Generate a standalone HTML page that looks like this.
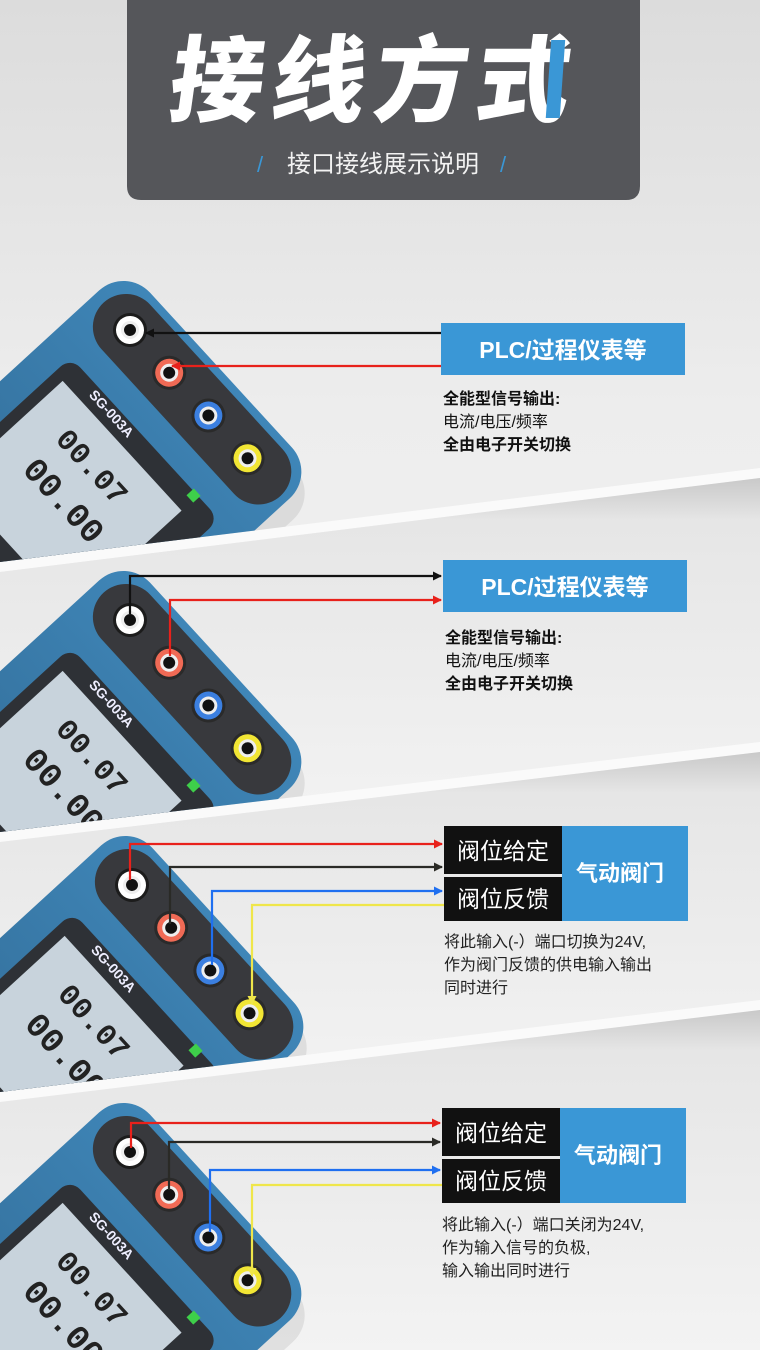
<!DOCTYPE html>
<html><head><meta charset="utf-8">
<style>
html,body{margin:0;padding:0;width:760px;height:1350px;overflow:hidden;background:#ececec;}
svg{display:block}
.cn{font-family:"Liberation Sans","Noto Sans CJK SC",sans-serif;}
</style></head>
<body>
<svg id="s" width="760" height="1350" viewBox="0 0 760 1350" xmlns="http://www.w3.org/2000/svg" class="cn" style="overflow:hidden">
<defs>
  <linearGradient id="bg1" x1="0" y1="0" x2="0" y2="1">
    <stop offset="0" stop-color="#dcdcdc"/><stop offset="0.3" stop-color="#ededed"/><stop offset="1" stop-color="#f6f6f6"/>
  </linearGradient>
  <linearGradient id="sec" x1="0" y1="0" x2="0" y2="1">
    <stop offset="0" stop-color="#c9c9c9"/><stop offset="0.12" stop-color="#e6e6e6"/><stop offset="1" stop-color="#f3f3f3"/>
  </linearGradient>
  <linearGradient id="body" x1="0" y1="0" x2="0" y2="1">
    <stop offset="0" stop-color="#3f86b8"/><stop offset="1" stop-color="#2b5f86"/>
  </linearGradient>
  <marker id="ak" markerWidth="9" markerHeight="9" refX="8" refY="4.5" orient="auto" markerUnits="userSpaceOnUse"><path d="M0,0 L9,4.5 L0,9 Z" fill="#111"/></marker>
  <marker id="ad" markerWidth="9" markerHeight="9" refX="8" refY="4.5" orient="auto" markerUnits="userSpaceOnUse"><path d="M0,0 L9,4.5 L0,9 Z" fill="#2a2a26"/></marker>
  <marker id="ar" markerWidth="9" markerHeight="9" refX="8" refY="4.5" orient="auto" markerUnits="userSpaceOnUse"><path d="M0,0 L9,4.5 L0,9 Z" fill="#e8211b"/></marker>
  <marker id="ab" markerWidth="9" markerHeight="9" refX="8" refY="4.5" orient="auto" markerUnits="userSpaceOnUse"><path d="M0,0 L9,4.5 L0,9 Z" fill="#1f6ff0"/></marker>
  <marker id="ay" markerWidth="9" markerHeight="9" refX="8" refY="4.5" orient="auto" markerUnits="userSpaceOnUse"><path d="M0,0 L9,4.5 L0,9 Z" fill="#efe64a"/></marker>
  <clipPath id="c1"><polygon points="0,0 760,0 760,468 0,562"/></clipPath>
  <clipPath id="c2"><polygon points="0,572 760,478 760,742 0,832"/></clipPath>
  <clipPath id="c3"><polygon points="0,842 760,752 760,1000 0,1092"/></clipPath>
  <clipPath id="c4"><polygon points="0,1102 760,1010 760,1350 0,1350"/></clipPath>
</defs>
<rect width="760" height="1350" fill="url(#bg1)"/>
<polygon points="0,562 760,468 760,478 0,572" fill="#fafafa"/>
<polygon points="0,572 760,478 760,742 0,832" fill="url(#sec)"/>
<polygon points="0,832 760,742 760,752 0,842" fill="#fafafa"/>
<polygon points="0,842 760,752 760,1000 0,1092" fill="url(#sec)"/>
<polygon points="0,1092 760,1000 760,1010 0,1102" fill="#fafafa"/>
<polygon points="0,1102 760,1010 760,1350 0,1350" fill="url(#sec)"/>

<g id="devs"></g>

<!-- header -->
<path d="M127,0 H640 V186 Q640,200 626,200 H141 Q127,200 127,186 Z" fill="#55565a"/>
<text x="372" y="114" text-anchor="middle" font-size="94" fill="#fff" letter-spacing="8" transform="skewX(-8) translate(14,0)" style="font-family:'Noto Sans CJK SC',sans-serif;font-weight:900">接线方式</text>
<rect x="549" y="40" width="14" height="78" fill="#3a97d6" transform="skewX(-4) translate(5,0)"/>
<text x="257" y="172" font-size="22" fill="#3a97d6">/</text>
<text x="383" y="172" text-anchor="middle" font-size="24" fill="#f2f2f2">接口接线展示说明</text>
<text x="500" y="172" font-size="22" fill="#3a97d6">/</text>

<!-- Section 1 -->
<rect x="441" y="323" width="244" height="52" fill="#3a97d6"/>
<text x="563" y="358" text-anchor="middle" font-size="23" font-weight="bold" fill="#fff">PLC/过程仪表等</text>
<line x1="441" y1="333" x2="146" y2="333" stroke="#111" stroke-width="2.2" marker-end="url(#ak)"/>
<line x1="441" y1="366" x2="172" y2="366" stroke="#e8211b" stroke-width="2.2" marker-end="url(#ar)"/>
<text x="443" y="404" font-size="16" font-weight="bold" fill="#111">全能型信号输出:</text>
<text x="443" y="427" font-size="16" fill="#111">电流/电压/频率</text>
<text x="443" y="450" font-size="16" font-weight="bold" fill="#111">全由电子开关切换</text>

<!-- Section 2 -->
<rect x="443" y="560" width="244" height="52" fill="#3a97d6"/>
<text x="565" y="595" text-anchor="middle" font-size="23" font-weight="bold" fill="#fff">PLC/过程仪表等</text>
<polyline points="130,614 130,576 441,576" fill="none" stroke="#111" stroke-width="2.2" marker-end="url(#ak)"/>
<polyline points="170,656 170,600 441,600" fill="none" stroke="#e8211b" stroke-width="2.2" marker-end="url(#ar)"/>
<text x="445" y="643" font-size="16" font-weight="bold" fill="#111">全能型信号输出:</text>
<text x="445" y="666" font-size="16" fill="#111">电流/电压/频率</text>
<text x="445" y="689" font-size="16" font-weight="bold" fill="#111">全由电子开关切换</text>

<!-- Section 3 -->
<rect x="562" y="826" width="126" height="95" fill="#3a97d6"/>
<rect x="444" y="826" width="118" height="48" fill="#111"/>
<rect x="444" y="877" width="118" height="44" fill="#111"/>
<text x="503" y="859" text-anchor="middle" font-size="23" fill="#fff">阀位给定</text>
<text x="503" y="907" text-anchor="middle" font-size="23" fill="#fff">阀位反馈</text>
<text x="620" y="881" text-anchor="middle" font-size="22" font-weight="bold" fill="#fff">气动阀门</text>
<polyline points="130,880 130,844 442,844" fill="none" stroke="#e8211b" stroke-width="2.2" marker-end="url(#ar)"/>
<polyline points="170,924 170,867 442,867" fill="none" stroke="#2a2a26" stroke-width="2.2" marker-end="url(#ad)"/>
<polyline points="212,965 212,891 442,891" fill="none" stroke="#1f6ff0" stroke-width="2.2" marker-end="url(#ab)"/>
<polyline points="444,905 252,905 252,1004" fill="none" stroke="#efe64a" stroke-width="2.2" marker-end="url(#ay)"/>
<text x="444" y="947" font-size="16" fill="#222">将此输入(-）端口切换为24V,</text>
<text x="444" y="970" font-size="16" fill="#222">作为阀门反馈的供电输入输出</text>
<text x="444" y="993" font-size="16" fill="#222">同时进行</text>

<!-- Section 4 -->
<rect x="560" y="1108" width="126" height="95" fill="#3a97d6"/>
<rect x="442" y="1108" width="118" height="48" fill="#111"/>
<rect x="442" y="1159" width="118" height="44" fill="#111"/>
<text x="501" y="1141" text-anchor="middle" font-size="23" fill="#fff">阀位给定</text>
<text x="501" y="1189" text-anchor="middle" font-size="23" fill="#fff">阀位反馈</text>
<text x="618" y="1163" text-anchor="middle" font-size="22" font-weight="bold" fill="#fff">气动阀门</text>
<polyline points="131,1148 131,1123 440,1123" fill="none" stroke="#e8211b" stroke-width="2.2" marker-end="url(#ar)"/>
<polyline points="169,1190 169,1142 440,1142" fill="none" stroke="#2a2a26" stroke-width="2.2" marker-end="url(#ad)"/>
<polyline points="210,1232 210,1170 440,1170" fill="none" stroke="#1f6ff0" stroke-width="2.2" marker-end="url(#ab)"/>
<polyline points="442,1185 252,1185 252,1276" fill="none" stroke="#efe64a" stroke-width="2.2" marker-end="url(#ay)"/>
<text x="442" y="1230" font-size="16" fill="#222">将此输入(-）端口关闭为24V,</text>
<text x="442" y="1253" font-size="16" fill="#222">作为输入信号的负极,</text>
<text x="442" y="1276" font-size="16" fill="#222">输入输出同时进行</text>
</svg>
<script>
(function(){
  var origins=[[130,330,"c1"],[130,620,"c2"],[132,885,"c3"],[130,1152,"c4"]];
  var jackCols=["#ffffff","#f06a55","#3b7fe0","#f2e634"];
  var html="";
  origins.forEach(function(o){
    var g='<g clip-path="url(#'+o[2]+')"><g transform="translate('+o[0]+','+o[1]+') rotate(47.5)">';
    g+='<rect x="-40" y="-36" width="280" height="480" rx="36" fill="#000" opacity="0.08" transform="translate(10,8)"/>';
    g+='<rect x="-50" y="-40" width="282" height="480" rx="36" fill="url(#body)"/>';
    g+='<rect x="-38" y="-32" width="262" height="66" rx="33" fill="#38393d"/>';
    g+='<rect x="-20" y="62" width="220" height="200" rx="14" fill="#2e3136"/>';
    g+='<rect x="-8" y="84" width="176" height="150" fill="#c8d3dc"/>';
    g+='<text x="20" y="75" font-size="14" font-weight="bold" fill="#eef" font-family="Liberation Sans,sans-serif">SG-003A</text>';
    g+='<text x="30" y="130" font-size="30" font-weight="bold" fill="#222" font-family="Liberation Mono,monospace">00.07</text>';
    g+='<text x="30" y="175" font-size="34" font-weight="bold" fill="#222" font-family="Liberation Mono,monospace">00.00</text>';
    g+='<rect x="160" y="60" width="10" height="10" fill="#3ecf4a"/>';
    for(var i=0;i<4;i++){
      var cx=i*58;
      g+='<circle cx="'+cx+'" cy="0" r="17" fill="'+(i==0?"#1c1c1c":"#2a2a2a")+'"/>';
      g+='<circle cx="'+cx+'" cy="0" r="14" fill="'+jackCols[i]+'"/>';
      g+='<circle cx="'+cx+'" cy="0" r="9" fill="#eeeeee"/>';
      g+='<circle cx="'+cx+'" cy="0" r="6" fill="#111"/>';
    }
    g+='</g></g>';
    html+=g;
  });
  document.getElementById("devs").innerHTML=html;
})();
</script>
</body></html>
